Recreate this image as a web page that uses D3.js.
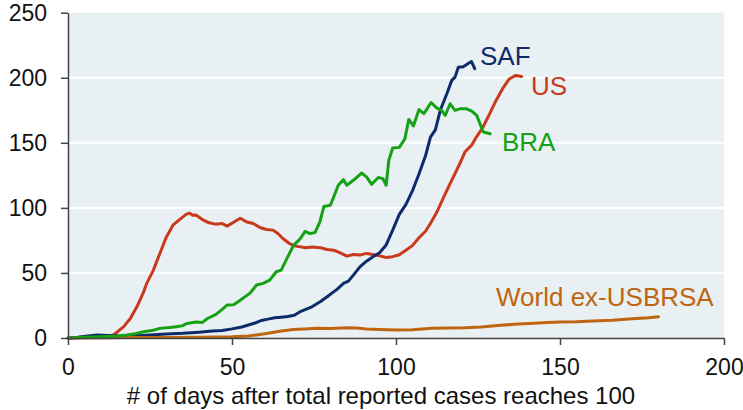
<!DOCTYPE html>
<html>
<head>
<meta charset="utf-8">
<script src="https://cdn.jsdelivr.net/npm/d3@7"></script>
<style>
  html, body { margin: 0; padding: 0; background: #ffffff; }
  svg { display: block; font-family: "Liberation Sans", Arial, sans-serif; }
</style>
</head>
<body>
<svg id="chart" width="743" height="410"></svg>
<script>
// ---- Data ----
const xTicks = [0, 50, 100, 150, 200];
const yTicks = [0, 50, 100, 150, 200, 250];
const xTitle = "# of days after total reported cases reaches 100";

const usDays = [0,5,10,12,14,17,19,21,23,24,26,28,30,32,34,36,37,38,39,41,43,45,47,48.5,50.5,52.5,54.5,56.5,58.5,60.5,62.5,64,65.5,67.5,69.5,72.5,74.5,77,79,81,83,85,87,89,91,93,95,97,99,101,103,105,107,109,110.5,112.5,114.5,116.5,118.5,120,121,123,124.5,126.5,128.5,130.5,132.5,134.5,136.5,138.3];
const usVals = [0,0.3,0.5,1,2.5,8.7,15,24,35,42,52,65,77.7,86.7,91,95,96,94.4,94.5,91,88.5,87.5,88,86,89,92,89.2,88,84.9,83.4,82.9,80.3,76.5,72.6,70.6,69.3,70,69.3,68,67.5,65.4,62.9,64.2,63.7,65,64.2,63.1,61.9,62.5,64,67.5,71,77,82,88,97,108,118.7,129,137,142.9,148,154.4,162,172,182.6,191.6,199,201.8,201];

const safDays = [0,3,6,9,12,15,20,25,30,35,40,44,47,50,53,55,57,59,61,63,65,67,69,71,74,77,79,82,84,85.5,87,89,91,93,95,97,99,101,103,105,107,109,110.5,112,113.5,115.5,117,118,119,120.5,122,123,124];
const safVals = [0,0.5,1.5,2.3,2,1.5,1.5,2.3,3,3.6,4.5,5.4,5.8,7,8.5,10,11.5,13.5,14.5,15.5,16,16.5,17.5,20.5,23.5,28,31.7,37.4,42,43.7,48.3,54.7,59,62.4,65.5,71.5,82.9,95,102.5,113,126,140,154.4,160,175,187.7,198,200.5,208,208.5,211,212.5,207];

const braDays = [0,5,10,15,18,20,23,26,28,31,33,35,36,39,41,42.5,45,47,48.5,50.5,52.5,55.5,57.5,59.5,61.5,63.5,65,66.5,68.7,70.7,72.3,73.8,75.3,76.8,78,80,81,82.4,84,85,87,89.5,91,92.6,94.6,96,97,97.8,99,101,102.7,103.9,105.3,107,108.5,110.7,112.4,113.9,115,116.5,118,119.5,121.5,123.1,124.6,125.6,126.6,128.7];
const braVals = [0,0.5,1,1.5,2.3,3,4.8,6,7.4,8,8.7,9.5,11,12.3,12,15,18,22,25.3,25.5,29,34.5,40.7,42,44.5,50.9,52.2,59.8,71,76,82,80.3,81,89.2,101,102,108.4,117.4,121.7,117.4,121.2,126.8,123.8,118.1,123.3,122.5,117.4,136.6,146,146.5,153,168,163,175.5,172.4,181,176.9,174.9,171.1,180,174.9,176.1,176.1,174.4,171.1,164.7,158.3,157];

const worldDays = [0,10,20,30,40,50,55,58,61,65,68.7,72,76,80,85,88,91,95,100,105,111,116,121,126,131,136,142,146,150,155,160,166,172,177,180];
const worldVals = [0,0.2,0.3,0.4,0.6,1,1.5,2.5,3.6,5.4,6.6,7,7.4,7.3,7.9,7.6,6.9,6.5,6.1,6.4,7.4,7.7,7.9,8.4,9.6,10.5,11.3,12,12.3,12.5,13,13.6,14.8,15.5,16.3];

const seriesNames = ["US", "SAF", "World ex-USBRSA", "BRA"];

// ---- Layout ----
const svg = d3.select("#chart");
const x = d3.scaleLinear().domain([0, 200]).range([68, 724]);
const y = d3.scaleLinear().domain([0, 250]).range([338, 12.7]);

const series = [
  { name: seriesNames[0], days: usDays, vals: usVals, color: "#c9391c", lx: 531, ly: 95 },
  { name: seriesNames[1], days: safDays, vals: safVals, color: "#0d2b6b", lx: 480, ly: 65 },
  { name: seriesNames[2], days: worldDays, vals: worldVals, color: "#c0650f", lx: 496, ly: 306 },
  { name: seriesNames[3], days: braDays, vals: braVals, color: "#14a214", lx: 502, ly: 151 }
];

// plot background
svg.append("rect")
  .attr("x", x(0)).attr("y", y(250))
  .attr("width", x(200) - x(0)).attr("height", y(0) - y(250))
  .attr("fill", "#e8f0f3");

// gridlines
svg.append("g").selectAll("line")
  .data(yTicks.filter(t => t > 0 && t < 250))
  .join("line")
  .attr("x1", x(0)).attr("x2", x(200))
  .attr("y1", d => y(d)).attr("y2", d => y(d))
  .attr("stroke", "#ffffff").attr("stroke-width", 2);

// lines
const line = d3.line().x(d => x(d[0])).y(d => y(d[1]));
series.forEach(s => {
  const pts = s.days.map((d, i) => [d, s.vals[i]]);
  svg.append("path")
    .datum(pts)
    .attr("d", line)
    .attr("fill", "none")
    .attr("stroke", s.color)
    .attr("stroke-width", 3)
    .attr("stroke-linejoin", "round")
    .attr("stroke-linecap", "round");
});

// axes
const yAxis = svg.append("g")
  .attr("transform", `translate(${x(0)},0)`)
  .call(d3.axisLeft(y).tickValues(yTicks).tickSize(7).tickPadding(14).tickSizeOuter(0));
const xAxis = svg.append("g")
  .attr("transform", `translate(0,${y(0)})`)
  .call(d3.axisBottom(x).tickValues(xTicks).tickSize(7).tickPadding(14).tickSizeOuter(0));

[yAxis, xAxis].forEach(g => {
  g.select(".domain").attr("stroke", "#444").attr("stroke-width", 1.5);
  g.selectAll(".tick line").attr("stroke", "#444").attr("stroke-width", 1.5);
  g.selectAll(".tick text")
    .attr("fill", "#111")
    .style("font-size", "23px")
    .style("font-family", '"Liberation Sans", Arial, sans-serif');
});

// x title
svg.append("text")
  .attr("x", 381).attr("y", 404)
  .attr("text-anchor", "middle")
  .attr("fill", "#111")
  .style("font-size", "24px")
  .text(xTitle);

// series labels
svg.append("g").selectAll("text")
  .data(series)
  .join("text")
  .attr("x", d => d.lx).attr("y", d => d.ly)
  .attr("fill", d => d.color)
  .style("font-size", "26px")
  .text(d => d.name);
</script>
</body>
</html>
